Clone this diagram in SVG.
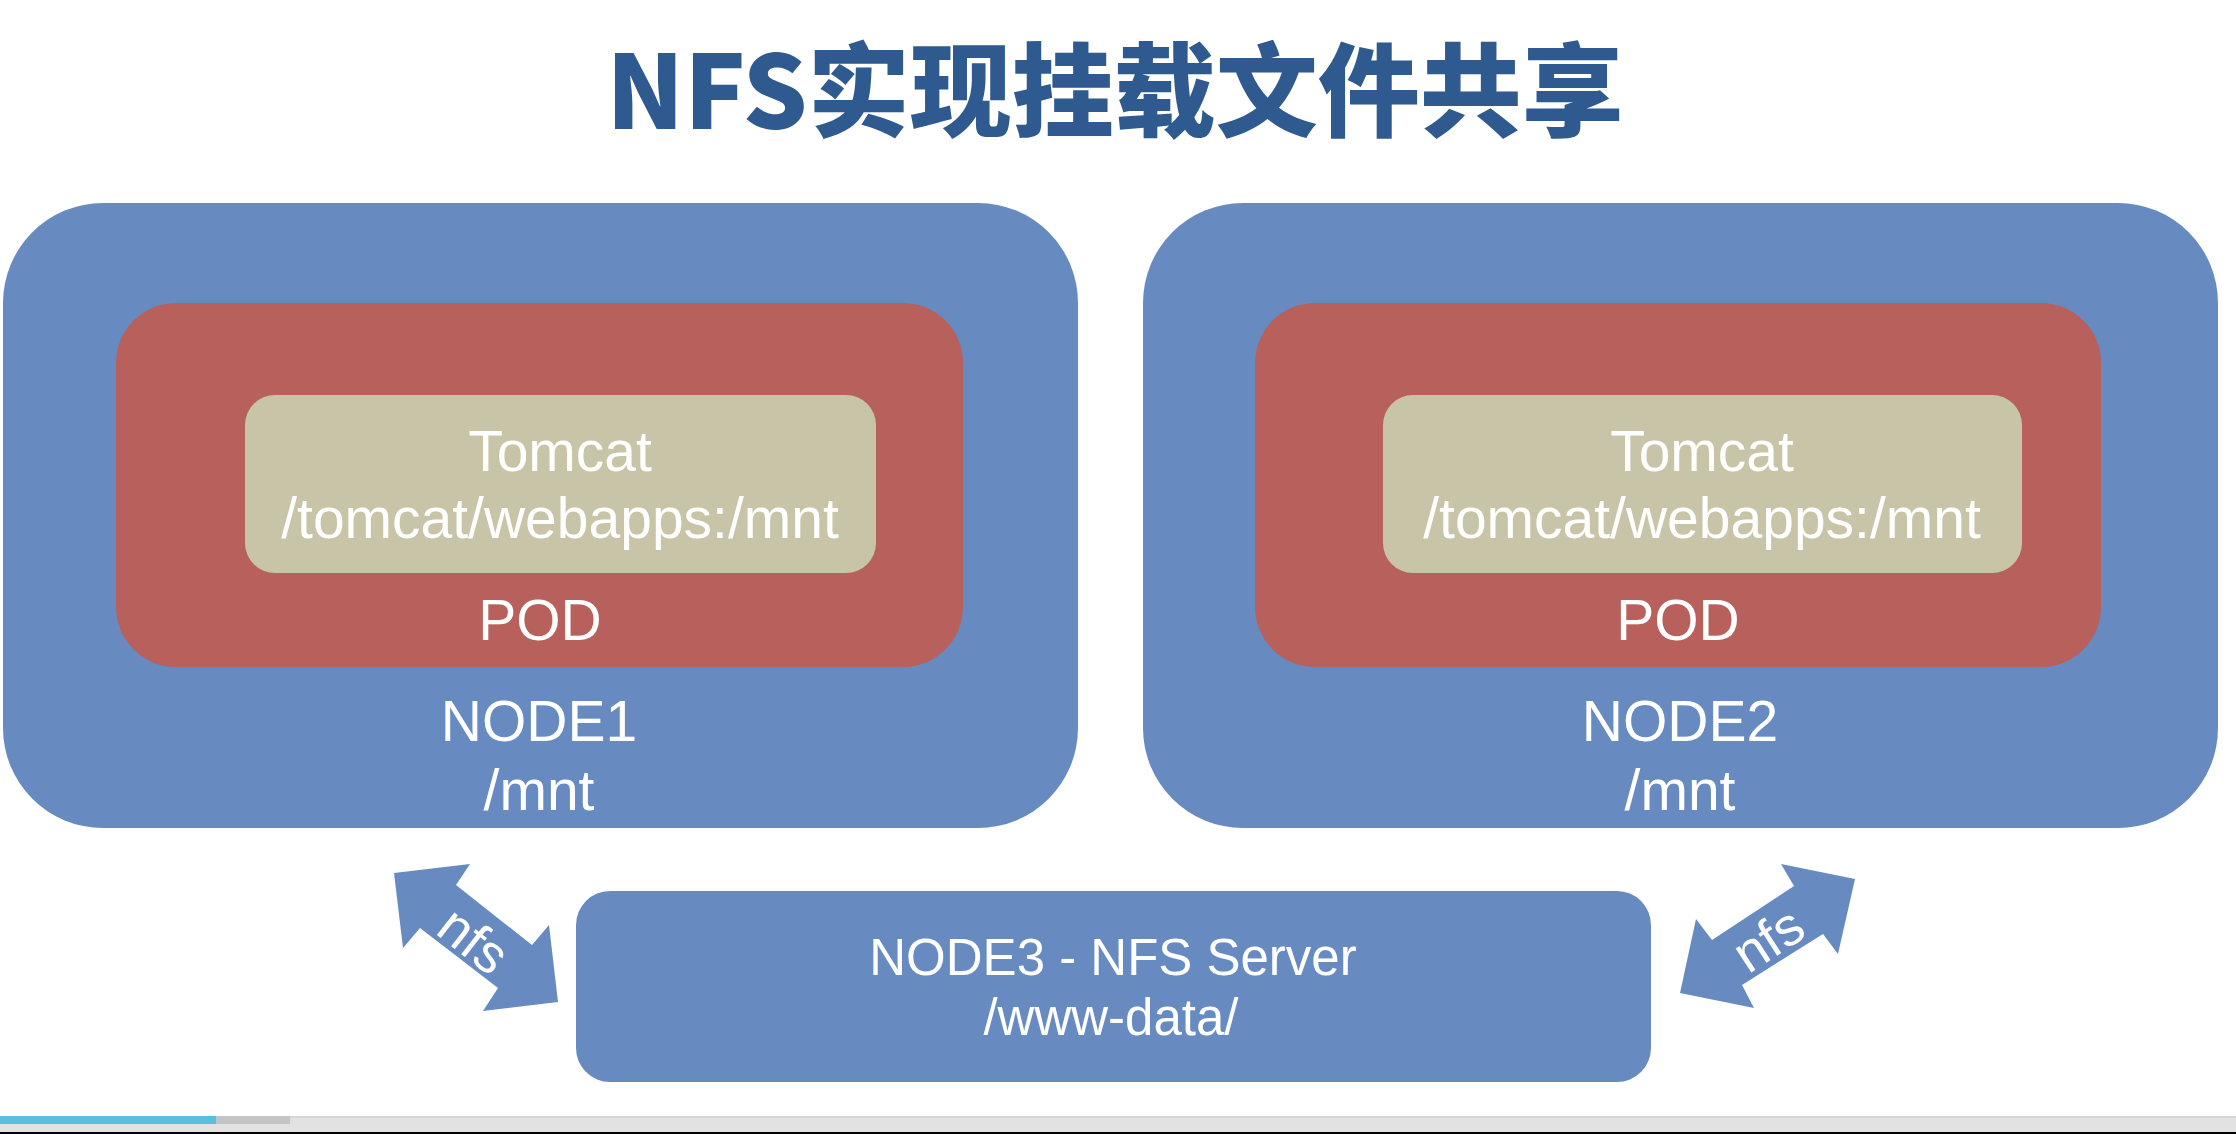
<svg xmlns="http://www.w3.org/2000/svg" width="2236" height="1134" viewBox="0 0 2236 1134">
  <style>
    .node { fill: #678BC1; }
    .pod { fill: #B8605B; }
    .app { fill: #C8C4A7; }
    .lbl { font-family: "Liberation Sans", Arial, sans-serif; fill: #FFFFFF; text-anchor: middle; }
    .big { font-size: 57px; }
    .mid { font-size: 51px; }
    .title { font-family: "Noto Sans CJK SC", "Liberation Sans", sans-serif; font-weight: 900; font-size: 102px; fill: #2F5A8F; text-anchor: middle; }
    .arrow { fill: #678BC1; }
  </style>
  <rect x="0" y="0" width="2236" height="1134" fill="#FFFFFF"/>

  <g id="title">
    <text class="title" x="1115" y="129">NFS实现挂载文件共享</text>
  </g>

  <g id="node1">
    <rect class="node" x="3" y="203" width="1075" height="625" rx="100" ry="100"/>
    <text class="lbl big" x="539" y="741">NODE1</text>
    <text class="lbl big" x="539" y="810">/mnt</text>
  </g>
  <g id="pod1">
    <rect class="pod" x="116" y="303" width="847" height="364" rx="60" ry="60"/>
    <text class="lbl big" x="540" y="640">POD</text>
  </g>
  <g id="tomcat1">
    <rect class="app" x="245" y="395" width="631" height="178" rx="30" ry="30"/>
    <text class="lbl big" x="560" y="471">Tomcat</text>
    <text class="lbl big" x="560" y="538">/tomcat/webapps:/mnt</text>
  </g>

  <g id="node2">
    <rect class="node" x="1143" y="203" width="1075" height="625" rx="100" ry="100"/>
    <text class="lbl big" x="1680" y="741">NODE2</text>
    <text class="lbl big" x="1680" y="810">/mnt</text>
  </g>
  <g id="pod2">
    <rect class="pod" x="1255" y="303" width="846" height="364" rx="60" ry="60"/>
    <text class="lbl big" x="1678" y="640">POD</text>
  </g>
  <g id="tomcat2">
    <rect class="app" x="1383" y="395" width="639" height="178" rx="30" ry="30"/>
    <text class="lbl big" x="1702" y="471">Tomcat</text>
    <text class="lbl big" x="1702" y="538">/tomcat/webapps:/mnt</text>
  </g>

  <g id="node3">
    <rect class="node" x="576" y="891" width="1075" height="191" rx="34" ry="34"/>
    <text class="lbl mid" x="1113" y="975">NODE3 - NFS Server</text>
    <text class="lbl mid" x="1111" y="1035">/www-data/</text>
  </g>

  <g id="connectors">
    <g id="nfs-left">
      <polygon class="arrow" points="394,873 470,864 456,885 532,945 549,925 558,1002 483,1011 498,988 420,928 403,948"/>
      <text class="lbl" font-size="54" x="0" y="0" dominant-baseline="central" transform="translate(474,940) rotate(38)">nfs</text>
    </g>
    <g id="nfs-right">
      <polygon class="arrow" points="1680,993 1696,919 1712,940 1794,886 1781,864 1855,879 1838,954 1823,934 1742,985 1754,1008"/>
      <text class="lbl" font-size="54" x="0" y="0" dominant-baseline="central" transform="translate(1768,939) rotate(-33)">nfs</text>
    </g>
  </g>

  <g id="progress">
    <rect x="0" y="1116" width="2236" height="16" fill="#E2E2E2"/>
    <rect x="0" y="1116" width="2236" height="2" fill="#D6D6D6"/>
    <rect x="0" y="1116" width="216" height="8" fill="#58BFDC"/>
    <rect x="216" y="1116" width="74" height="8" fill="#C3C4C6"/>
    <rect x="0" y="1132" width="2236" height="2" fill="#000000"/>
  </g>
</svg>
